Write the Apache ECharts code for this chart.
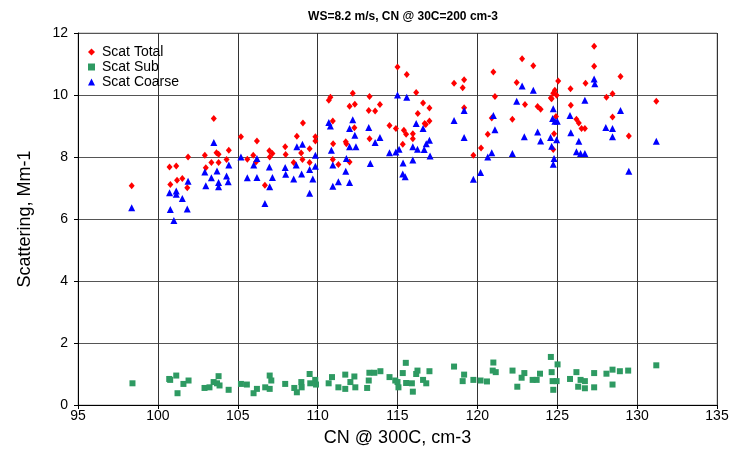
<!DOCTYPE html>
<html>
<head>
<meta charset="utf-8">
<script src="https://cdn.jsdelivr.net/npm/echarts@6/dist/echarts.min.js"></script>
<style>
  html, body { margin: 0; padding: 0; background: #fff; }
  #chart { width: 733px; height: 461px; }
</style>
</head>
<body>
<div id="chart"></div>
<script>
// CN @ 300C vs scattering
const xTicks = [95, 100, 105, 110, 115, 120, 125, 130, 135];
const yTicks = [0, 2, 4, 6, 8, 10, 12];

const scatTotal = [
  [98.36, 7.07], [100.73, 7.68], [101.15, 7.71], [100.78, 7.11], [101.2, 7.25], [101.53, 7.31],
  [101.84, 7.01], [101.89, 8.0], [103.5, 9.24], [102.94, 8.06], [103.0, 7.65], [103.35, 7.82],
  [103.67, 8.14], [103.8, 8.09], [103.8, 7.82], [104.3, 7.92], [104.44, 8.22], [105.2, 8.65],
  [105.6, 7.93], [105.97, 8.06], [106.2, 8.52], [106.14, 7.84], [106.7, 7.09], [106.98, 8.2],
  [107.17, 8.11], [107.0, 8.0], [107.97, 8.33], [108.0, 8.08], [108.5, 7.82], [108.7, 8.67],
  [108.97, 8.13], [109.08, 9.1], [109.05, 7.92], [109.5, 8.27], [109.5, 7.82], [109.86, 8.65],
  [109.86, 8.52], [110.7, 9.83], [110.8, 9.93], [110.95, 9.16], [110.97, 8.43], [110.95, 7.92],
  [111.3, 7.76], [111.76, 8.49], [111.8, 8.43], [112.0, 9.64], [112.2, 10.06], [112.33, 9.7],
  [112.3, 8.94], [112.0, 7.84], [113.25, 9.95], [113.2, 9.5], [113.25, 8.59], [113.6, 9.48],
  [113.9, 9.69], [114.5, 9.02], [114.9, 8.92], [115.0, 10.9],
  [115.58, 10.66], [116.17, 10.08], [116.6, 9.74], [117.0, 9.58], [116.27, 9.4], [115.4, 8.86],
  [115.54, 8.73], [115.96, 8.75], [115.96, 8.59], [115.33, 8.41], [116.7, 9.08], [117.0, 9.16],
  [116.77, 9.05], [118.54, 10.38], [119.17, 10.49], [119.08, 10.23], [119.17, 9.59], [119.75, 8.06],
  [120.23, 8.29], [120.65, 8.73], [120.9, 9.26], [121.1, 9.95], [121.0, 10.74], [122.19, 9.22],
  [122.46, 10.4], [122.8, 11.17], [122.98, 9.69], [123.5, 10.94], [123.77, 9.63], [123.96, 9.54],
  [124.65, 9.88], [124.75, 10.06], [124.85, 10.15], [124.96, 9.99], [125.06, 10.45], [124.6, 9.9],
  [124.92, 9.31], [124.8, 8.75], [124.75, 8.24], [125.83, 10.2], [125.85, 9.67], [126.2, 9.22],
  [126.35, 9.1], [126.52, 8.92], [126.73, 8.92], [126.77, 10.38], [127.31, 11.57], [127.31, 10.93],
  [128.08, 9.93], [128.46, 10.04], [128.46, 9.29], [128.96, 10.6], [129.48, 8.68], [131.2, 9.8]
];

const scatSub = [
  [98.41, 0.70], [100.71, 0.84], [100.77, 0.81], [101.15, 0.95], [101.23, 0.38], [101.6, 0.68],
  [101.92, 0.79], [102.92, 0.55], [103.23, 0.57], [103.49, 0.74], [103.8, 0.93], [103.7, 0.70],
  [103.86, 0.63], [104.43, 0.49], [105.2, 0.68], [105.57, 0.66], [105.99, 0.38], [106.2, 0.52],
  [106.72, 0.57], [107.0, 0.95], [107.1, 0.79], [107.0, 0.52], [107.97, 0.68], [108.54, 0.55],
  [108.7, 0.41], [108.98, 0.74], [109.0, 0.57], [109.5, 1.0], [109.54, 0.70], [109.85, 0.81],
  [109.9, 0.66], [110.69, 0.70], [110.9, 0.90], [111.3, 0.57], [111.73, 0.98], [111.73, 0.52],
  [112.05, 0.74], [112.3, 0.92], [112.36, 0.57], [113.1, 0.55], [113.24, 1.04], [113.55, 1.04],
  [113.93, 1.09], [113.2, 0.79], [114.5, 0.90], [114.86, 0.79],
  [115.0, 0.74], [115.06, 0.57], [115.33, 1.03], [115.52, 1.36], [115.54, 0.71], [115.9, 0.70],
  [115.96, 0.43], [116.17, 1.0], [116.25, 1.11], [116.6, 0.81], [116.8, 0.70], [117.0, 1.09],
  [118.54, 1.24], [119.08, 0.77], [119.17, 0.98], [119.75, 0.81], [120.2, 0.79], [120.6, 0.76],
  [121.0, 1.37], [120.96, 1.11], [121.15, 1.06], [122.2, 1.11], [122.5, 0.59], [122.77, 0.88],
  [122.94, 1.03], [123.46, 0.81], [123.71, 0.81], [123.92, 1.01], [124.6, 1.55], [124.65, 1.06],
  [124.71, 0.77], [124.75, 0.49], [124.96, 0.77], [125.02, 1.31], [125.8, 0.84], [126.2, 1.06],
  [126.31, 0.59], [126.46, 0.81], [126.73, 0.77], [126.73, 0.54], [127.31, 1.03], [127.31, 0.57],
  [128.08, 1.01], [128.46, 1.14], [128.46, 0.66], [128.92, 1.09], [129.44, 1.11], [131.2, 1.28]
];

const scatCoarse = [
  [98.36, 6.36], [100.78, 6.31], [101.0, 5.95], [100.73, 6.85], [101.15, 6.9], [101.15, 6.8],
  [101.53, 6.66], [101.84, 6.32], [101.89, 7.22], [102.94, 7.52], [103.0, 7.07], [103.35, 7.33],
  [103.5, 8.47], [103.7, 7.55], [103.8, 7.18], [103.8, 7.04], [104.3, 7.39], [104.44, 7.74],
  [104.4, 7.2], [105.2, 8.0], [105.6, 7.33], [106.0, 7.74], [106.2, 7.34], [106.2, 7.95],
  [106.7, 6.5], [107.0, 7.04], [106.98, 7.68], [107.17, 7.34], [107.97, 7.66], [108.0, 7.44],
  [108.5, 7.29], [108.7, 8.33], [108.66, 7.74], [109.05, 8.41], [109.0, 7.45], [109.5, 6.83],
  [109.5, 7.6], [109.7, 7.29], [109.86, 8.06], [109.86, 7.7], [110.7, 9.11], [110.8, 9.0],
  [110.86, 8.22], [110.95, 7.74], [110.95, 7.06], [111.3, 7.2], [111.76, 7.54], [111.8, 7.95],
  [112.0, 8.92], [112.0, 8.33], [112.0, 7.18], [112.2, 9.2], [112.33, 8.7], [112.4, 8.33],
  [113.2, 8.95], [113.3, 7.79], [113.6, 8.47], [113.9, 8.63], [114.5, 8.14], [114.9, 8.16],
  [115.0, 10.0], [115.58, 9.93], [115.1, 8.25], [115.35, 7.81], [115.33, 7.45], [115.48, 7.36],
  [115.96, 8.33], [115.96, 7.9], [116.17, 9.08], [116.25, 8.25], [116.6, 8.92], [116.67, 8.24],
  [116.8, 8.43], [117.0, 8.54], [117.04, 8.03], [118.54, 9.18], [119.17, 9.5], [119.17, 8.63],
  [119.75, 7.28], [120.2, 7.5], [120.65, 8.0], [120.9, 8.14], [121.0, 9.34], [121.1, 8.88],
  [122.19, 8.11], [122.46, 9.8], [122.8, 10.29], [122.94, 8.65], [123.5, 10.15], [123.77, 8.81],
  [123.96, 8.52], [124.58, 8.63], [124.65, 8.35], [124.75, 9.56], [124.71, 9.24], [124.85, 9.15],
  [125.0, 9.15], [124.96, 8.56], [124.8, 7.95], [124.75, 7.77], [125.8, 9.34], [125.85, 8.78],
  [126.35, 8.51], [126.2, 8.17], [126.46, 8.11], [126.73, 8.11], [126.73, 9.83], [127.31, 10.52],
  [127.35, 10.36], [128.04, 8.95], [128.46, 8.92], [128.46, 8.65], [128.96, 9.5], [129.48, 7.54],
  [131.2, 8.51]
];

const font = 'Liberation Sans, Arial, sans-serif';
const chart = echarts.init(document.getElementById('chart'));

chart.setOption({
  animation: false,
  backgroundColor: '#fff',
  title: {
    text: 'WS=8.2 m/s, CN @ 30C=200 cm-3',
    left: 398,
    top: 6,
    textAlign: 'center',
    textStyle: { fontFamily: font, fontSize: 12, fontWeight: 'bold', color: '#000' }
  },
  legend: {
    orient: 'vertical',
    left: 88,
    top: 45,
    padding: 0,
    itemWidth: 7,
    itemHeight: 7,
    itemGap: 1,
    textStyle: { fontFamily: font, fontSize: 14, color: '#000', padding: [0, 0, 0, 2] },
    data: ['Scat Total', 'Scat Sub', 'Scat Coarse']
  },
  grid: {
    left: 78,
    right: 16,
    top: 33,
    bottom: 56,
    show: true,
    borderColor: '#aaa',
    borderWidth: 1
  },
  xAxis: {
    type: 'value',
    min: xTicks[0],
    max: xTicks[xTicks.length - 1],
    interval: 5,
    name: 'CN @ 300C, cm-3',
    nameLocation: 'middle',
    nameGap: 24,
    nameTextStyle: { fontFamily: font, fontSize: 18, color: '#000' },
    axisLine: { lineStyle: { color: '#000' } },
    axisTick: { show: true, length: 4, lineStyle: { color: '#000' } },
    axisLabel: { fontFamily: font, fontSize: 14, color: '#000', margin: 4 },
    splitLine: { show: true, lineStyle: { color: '#333', width: 1 } }
  },
  yAxis: {
    type: 'value',
    min: yTicks[0],
    max: yTicks[yTicks.length - 1],
    interval: 2,
    name: 'Scattering, Mm-1',
    nameLocation: 'middle',
    nameGap: 44,
    nameTextStyle: { fontFamily: font, fontSize: 18, color: '#000' },
    axisLine: { show: true, lineStyle: { color: '#000' } },
    axisTick: { show: true, length: 4, lineStyle: { color: '#000' } },
    axisLabel: { fontFamily: font, fontSize: 14, color: '#000', margin: 10 },
    splitLine: { show: true, lineStyle: { color: '#555', width: 1 } }
  },
  series: [
    {
      name: 'Scat Total',
      type: 'scatter',
      symbol: 'diamond',
      symbolSize: [6, 7],
      itemStyle: { color: '#ff0000', opacity: 1 },
      data: scatTotal
    },
    {
      name: 'Scat Sub',
      type: 'scatter',
      symbol: 'rect',
      symbolSize: 6,
      itemStyle: { color: '#2e9a62', opacity: 1 },
      data: scatSub
    },
    {
      name: 'Scat Coarse',
      type: 'scatter',
      symbol: 'triangle',
      symbolSize: [7, 7],
      itemStyle: { color: '#0000ff', opacity: 1 },
      data: scatCoarse
    }
  ]
});
</script>
</body>
</html>
